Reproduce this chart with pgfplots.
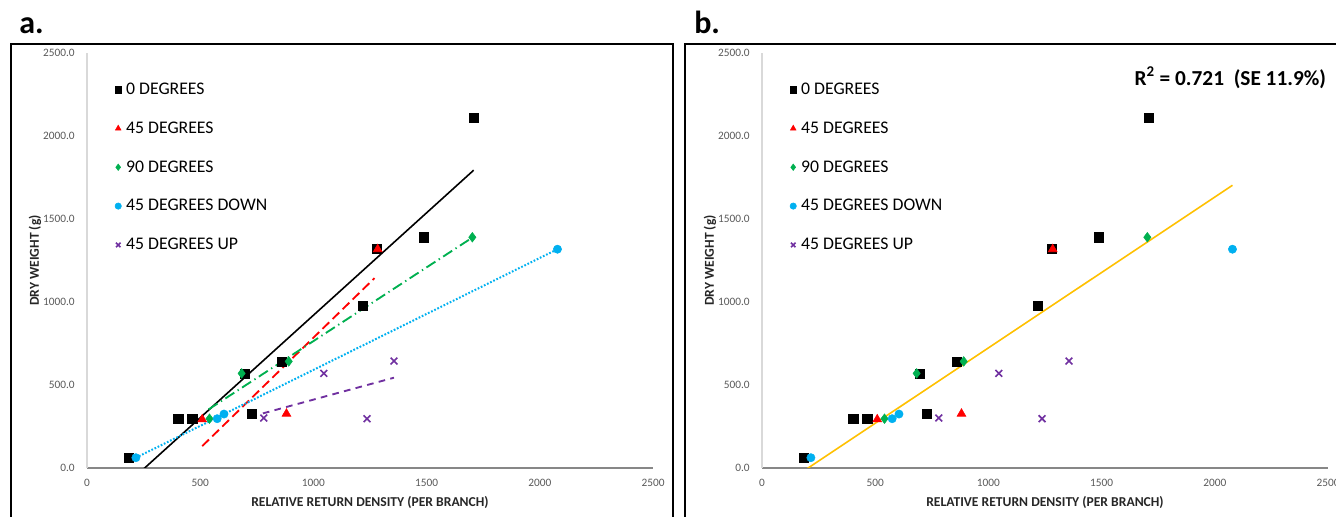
\documentclass[border=0pt]{standalone}
\usepackage{fontspec}
\setmainfont{Carlito}
\usepackage{pgfplots}
\usepackage{pgfplotstable}
\pgfplotsset{compat=1.18}
\definecolor{cred}{HTML}{FF0000}
\definecolor{cgreen}{HTML}{00B050}
\definecolor{cblue}{HTML}{00B0F0}
\definecolor{cpurple}{HTML}{7030A0}
\definecolor{corange}{HTML}{FFC000}
\definecolor{ticktxt}{HTML}{595959}

% data: relative return density, dry weight
\pgfplotstableread{
x y
185 62
403 295
465 295
728 325
698 570
862 642
1218 975
1278 1318
1486 1390
1708 2109
}\tzero
\pgfplotstableread{
x y
509 293
881 327
1284 1318
}\tfortyfive
\pgfplotstableread{
x y
541 297
683 570
891 642
1702 1390
}\tninety
\pgfplotstableread{
x y
216 62
575 297
605 325
2078 1318
}\tdown
\pgfplotstableread{
x y
781 301
1046 570
1237 297
1356 644
}\tup

\pgfplotsset{
  myaxis/.style={
    scale only axis, width=424.5pt, height=311.25pt,
    xmin=0, xmax=2500, ymin=0, ymax=2500,
    xtick={0,500,...,2500}, ytick={0,500,...,2500},
    axis x line*=bottom, axis y line*=left,
    axis line style={-},
    x axis line style={draw=black!47, line width=0.8pt},
    y axis line style={draw=black!15, line width=1.1pt},
    major tick length=0pt,
    tick label style={font=\fontsize{8.5}{10}\selectfont, text=ticktxt, inner sep=0pt},
    /pgf/number format/assume math mode=true,
    xticklabel style={anchor=center, yshift=-11.25pt, /pgf/number format/1000 sep={}},
    yticklabel style={anchor=east, xshift=-9pt, /pgf/number format/fixed, /pgf/number format/fixed zerofill, /pgf/number format/precision=1, /pgf/number format/1000 sep={}},
    xlabel={RELATIVE RETURN DENSITY (PER BRANCH)},
    ylabel={DRY WEIGHT (g)},
    label style={font=\bfseries\fontsize{10.2}{12}\selectfont, text=black!85},
    xlabel style={at={(axis description cs:0.5,-0.084)}, anchor=center},
    ylabel style={at={(axis description cs:-0.092,0.5)}, anchor=center},
    legend style={at={(axis description cs:0.0448,0.932)}, anchor=north west, draw=none, fill=none,
      inner sep=0pt, row sep=17pt, font=\fontsize{13.3}{16}\selectfont, nodes={inner sep=1pt}},
    legend cell align=left,
    legend image code/.code={\draw[mark repeat=2,mark phase=2,#1] plot coordinates {(0pt,0pt)(4pt,0pt)(8pt,0pt)}; \path (0pt,0pt) (8.75pt,0pt);},
    legend image post style={mark size=2.4pt},
  },
  s0/.style={only marks, mark=square*, mark size=3.4pt, black},
  s45/.style={only marks, mark=triangle*, mark size=3.8pt, cred},
  s90/.style={only marks, mark=diamond*, mark size=3.6pt, cgreen},
  sdown/.style={only marks, mark=*, mark size=3.1pt, cblue},
  sup/.style={only marks, mark=x, mark size=3.6pt, cpurple, mark options={line width=1.2pt}},
}

\begin{document}
\begin{tikzpicture}
\useasboundingbox (0pt,0pt) rectangle (1002pt,387.75pt);
\clip (0pt,0pt) rectangle (1002pt,387.75pt);
\draw[line width=1.3pt] (8.25pt,-15pt) rectangle (504.75pt,354.75pt);
\draw[line width=1.3pt] (513.75pt,-15pt) rectangle (1020pt,354.75pt);
\node[anchor=base west, inner sep=0pt, font=\bfseries\fontsize{24}{28}\selectfont] at (14.25pt,362.25pt) {a.};
\node[anchor=base west, inner sep=0pt, font=\bfseries\fontsize{24}{28}\selectfont] at (520.5pt,362.25pt) {b.};

% panel a
\begin{axis}[myaxis, at={(65.25pt,36.75pt)}, anchor=south west]
  \addplot[forget plot, black, line width=1.2pt] coordinates {(185,-86) (1708,1794)};
  \addplot[forget plot, cred, line width=1.4pt, dash pattern=on 7pt off 3.5pt] coordinates {(509,132) (1270,1144)};
  \addplot[forget plot, cgreen, line width=1.4pt, dash pattern=on 8pt off 3pt on 1pt off 3pt] coordinates {(537,353) (1702,1388)};
  \addplot[forget plot, cblue, line width=1.5pt, dash pattern=on 1.3pt off 1.3pt] coordinates {(216,62) (2078,1318)};
  \addplot[forget plot, cpurple, line width=1.4pt, dash pattern=on 5pt off 4pt] coordinates {(777,329) (1356,544)};
  \addplot[s0] table {\tzero};
  \addlegendentry{0 DEGREES}
  \addplot[s45] table {\tfortyfive};
  \addlegendentry{45 DEGREES}
  \addplot[s90] table {\tninety};
  \addlegendentry{90 DEGREES}
  \addplot[sdown] table {\tdown};
  \addlegendentry{45 DEGREES DOWN}
  \addplot[sup] table {\tup};
  \addlegendentry{45 DEGREES UP}
\end{axis}

% panel b
\begin{axis}[myaxis, at={(571.5pt,36.75pt)}, anchor=south west]
  \addplot[forget plot, corange, line width=1.2pt] coordinates {(185,-17) (2078,1703)};
  \addplot[s0] table {\tzero};
  \addlegendentry{0 DEGREES}
  \addplot[s45] table {\tfortyfive};
  \addlegendentry{45 DEGREES}
  \addplot[s90] table {\tninety};
  \addlegendentry{90 DEGREES}
  \addplot[sdown] table {\tdown};
  \addlegendentry{45 DEGREES DOWN}
  \addplot[sup] table {\tup};
  \addlegendentry{45 DEGREES UP}
  \node[anchor=east, inner sep=0pt, font=\bfseries\fontsize{16}{19}\selectfont] at (rel axis cs:0.997,0.94) {R\textsuperscript{2} = 0.721\ \ (SE 11.9\%)};
\end{axis}
\end{tikzpicture}
\end{document}
